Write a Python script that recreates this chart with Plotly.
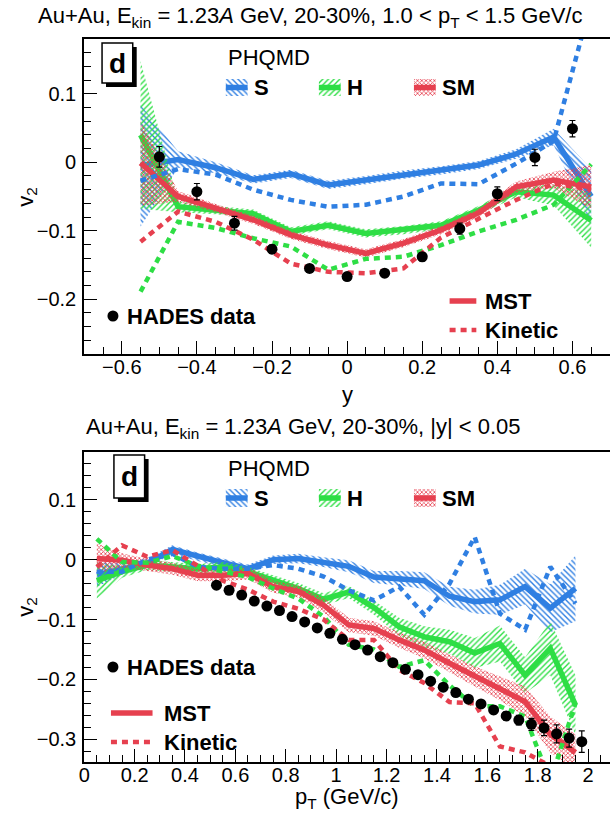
import plotly.graph_objects as go

# ---------------------------------------------------------------- data
# v2 vs rapidity, 1.0 < pT < 1.5 GeV/c
Y_MODEL = [-0.55, -0.45, -0.35, -0.25, -0.15, -0.05, 0.05, 0.15, 0.25, 0.35, 0.45, 0.55, 0.65]
S_MST_Y = [-0.005, 0.004, -0.008, -0.025, -0.017, -0.033, -0.026, -0.018, -0.012, -0.004, 0.012, 0.037, -0.050]
S_MST_Y_ERR = [0.089, 0.012, 0.008, 0.006, 0.006, 0.006, 0.006, 0.006, 0.006, 0.006, 0.007, 0.012, 0.040]
S_KIN_Y = [-0.027, -0.010, -0.018, -0.040, -0.055, -0.065, -0.062, -0.050, -0.031, -0.032, -0.002, 0.031, 0.235]
H_MST_Y = [0.040, -0.065, -0.070, -0.075, -0.101, -0.092, -0.104, -0.099, -0.092, -0.070, -0.043, -0.048, -0.085]
H_MST_Y_ERR = [0.108, 0.008, 0.006, 0.006, 0.006, 0.006, 0.006, 0.006, 0.006, 0.006, 0.008, 0.015, 0.040]
H_KIN_Y = [-0.189, -0.087, -0.096, -0.111, -0.123, -0.157, -0.141, -0.138, -0.121, -0.101, -0.084, -0.062, -0.003]
SM_MST_Y = [-0.001, -0.050, -0.067, -0.084, -0.106, -0.121, -0.133, -0.118, -0.099, -0.074, -0.036, -0.026, -0.036]
SM_MST_Y_ERR = [0.062, 0.008, 0.006, 0.006, 0.006, 0.006, 0.006, 0.006, 0.006, 0.006, 0.008, 0.012, 0.032]
SM_KIN_Y = [-0.116, -0.072, -0.087, -0.113, -0.148, -0.160, -0.162, -0.155, -0.110, -0.082, -0.055, -0.031, -0.040]

Y_HADES = [-0.5, -0.4, -0.3, -0.2, -0.1, 0.0, 0.1, 0.2, 0.3, 0.4, 0.5, 0.6]
V2_HADES_Y = [0.008, -0.043, -0.089, -0.127, -0.155, -0.167, -0.162, -0.138, -0.097, -0.046, 0.007, 0.049]
V2_HADES_Y_ERR = [0.015, 0.012, 0.010, 0.006, 0.005, 0.005, 0.005, 0.006, 0.008, 0.010, 0.012, 0.012]

# v2 vs transverse momentum, |y| < 0.05
PT_MODEL = [0.05, 0.15, 0.25, 0.35, 0.45, 0.55, 0.65, 0.75, 0.85, 0.95,
            1.05, 1.15, 1.25, 1.35, 1.45, 1.55, 1.65, 1.75, 1.85, 1.95]
S_MST_PT = [-0.025, -0.015, -0.006, 0.017, 0.005, -0.005, -0.015, 0.000, 0.002, -0.004,
            -0.011, -0.029, -0.031, -0.035, -0.061, -0.070, -0.067, -0.045, -0.081, -0.048]
S_MST_PT_ERR = [0.020, 0.010, 0.008, 0.007, 0.007, 0.007, 0.007, 0.007, 0.008, 0.008,
                0.010, 0.010, 0.012, 0.014, 0.016, 0.020, 0.025, 0.030, 0.040, 0.055]
S_KIN_PT = [-0.020, -0.020, 0.000, 0.010, -0.012, -0.015, -0.015, -0.009, -0.015, -0.028,
            -0.051, -0.068, -0.045, -0.092, -0.040, 0.038, -0.090, -0.117, -0.012, -0.073]
H_MST_PT = [-0.035, -0.020, -0.009, -0.012, -0.015, -0.012, -0.020, -0.034, -0.048, -0.066,
            -0.054, -0.080, -0.112, -0.129, -0.137, -0.156, -0.140, -0.193, -0.148, -0.243]
H_MST_PT_ERR = [0.030, 0.010, 0.008, 0.008, 0.008, 0.008, 0.008, 0.008, 0.009, 0.010,
                0.010, 0.012, 0.015, 0.018, 0.020, 0.025, 0.030, 0.030, 0.045, 0.050]
H_KIN_PT = [0.035, -0.004, -0.005, 0.006, -0.010, -0.020, -0.029, -0.048, -0.065, -0.095,
            -0.142, -0.150, -0.179, -0.168, -0.210, -0.245, -0.245, -0.262, -0.370, -0.240]
SM_MST_PT = [0.002, -0.001, -0.009, -0.015, -0.026, -0.026, -0.023, -0.045, -0.053, -0.076,
             -0.109, -0.115, -0.134, -0.151, -0.173, -0.195, -0.215, -0.237, -0.292, -0.322]
SM_MST_PT_ERR = [0.025, 0.012, 0.010, 0.010, 0.010, 0.010, 0.010, 0.010, 0.010, 0.012,
                 0.012, 0.012, 0.013, 0.014, 0.015, 0.017, 0.020, 0.025, 0.030, 0.030]
SM_KIN_PT = [-0.012, 0.024, 0.005, 0.016, -0.010, -0.035, -0.050, -0.070, -0.082, -0.100,
             -0.134, -0.134, -0.184, -0.206, -0.238, -0.240, -0.312, -0.322, -0.345, -0.360]

PT_HADES = [0.525, 0.575, 0.625, 0.675, 0.725, 0.775, 0.825, 0.875, 0.925, 0.975,
            1.025, 1.075, 1.125, 1.175, 1.225, 1.275, 1.325, 1.375, 1.425, 1.475,
            1.525, 1.575, 1.625, 1.675, 1.725, 1.775, 1.825, 1.875, 1.925, 1.975]
V2_HADES_PT = [-0.0425, -0.051, -0.059, -0.069, -0.0775, -0.085, -0.095, -0.104, -0.114, -0.123,
               -0.133, -0.142, -0.151, -0.162, -0.172, -0.183, -0.192, -0.203, -0.213, -0.222,
               -0.233, -0.241, -0.251, -0.261, -0.268, -0.275, -0.281, -0.291, -0.298, -0.304]
V2_HADES_PT_ERR = [0.002, 0.002, 0.002, 0.002, 0.002, 0.002, 0.002, 0.002, 0.002, 0.002,
                   0.003, 0.003, 0.003, 0.003, 0.003, 0.003, 0.003, 0.004, 0.004, 0.004,
                   0.005, 0.005, 0.006, 0.007, 0.008, 0.010, 0.013, 0.015, 0.015, 0.018]

# ---------------------------------------------------------------- style
W, H = 610, 825
FONT = "Liberation Sans"
BLUE, GREEN, RED = "#2f7fe2", "#2ede45", "#e6404f"
HATCH = {"S": (BLUE, "\\", 4, 0.35), "H": (GREEN, "/", 4, 0.35), "SM": (RED, "x", 3, 0.45)}
DASH = "6px,5px"

fig = go.Figure()


def pattern(key):
    color, shape, size, solidity = HATCH[key]
    return dict(shape=shape, fgcolor=color, bgcolor="rgba(0,0,0,0)",
                size=size, solidity=solidity, fillmode="replace")


def add_band(x, v, err, key, xa, ya):
    hi = [a + e for a, e in zip(v, err)]
    lo = [a - e for a, e in zip(v, err)]
    fig.add_trace(go.Scatter(
        x=list(x) + list(x)[::-1], y=hi + lo[::-1], mode="none",
        fill="toself", fillcolor="rgba(0,0,0,0)", fillpattern=pattern(key),
        xaxis=xa, yaxis=ya, showlegend=False, hoverinfo="skip"))


def add_line(x, v, key, xa, ya, dashed):
    color = HATCH[key][0]
    fig.add_trace(go.Scatter(
        x=x, y=v, mode="lines",
        line=dict(color=color, width=4.5 if dashed else 5.5, dash=DASH if dashed else "solid"),
        xaxis=xa, yaxis=ya, showlegend=False, hoverinfo="skip"))


def add_data(x, v, err, xa, ya):
    fig.add_trace(go.Scatter(
        x=x, y=v, mode="markers",
        marker=dict(color="black", size=11, symbol="circle"),
        error_y=dict(type="data", array=err, color="black", thickness=1.2, width=3),
        xaxis=xa, yaxis=ya, showlegend=False, hoverinfo="skip"))


panels = [
    ("x", "y", Y_MODEL,
     [("S", S_MST_Y, S_MST_Y_ERR, S_KIN_Y), ("H", H_MST_Y, H_MST_Y_ERR, H_KIN_Y),
      ("SM", SM_MST_Y, SM_MST_Y_ERR, SM_KIN_Y)],
     Y_HADES, V2_HADES_Y, V2_HADES_Y_ERR),
    ("x2", "y2", PT_MODEL,
     [("S", S_MST_PT, S_MST_PT_ERR, S_KIN_PT), ("H", H_MST_PT, H_MST_PT_ERR, H_KIN_PT),
      ("SM", SM_MST_PT, SM_MST_PT_ERR, SM_KIN_PT)],
     PT_HADES, V2_HADES_PT, V2_HADES_PT_ERR),
]

for xa, ya, xm, models, xd, vd, ed in panels:
    for key, mst, err, kin in models:
        add_band(xm, mst, err, key, xa, ya)
        add_line(xm, mst, key, xa, ya, dashed=False)
    for key, mst, err, kin in models:
        add_line(xm, kin, key, xa, ya, dashed=True)
    add_data(xd, vd, ed, xa, ya)

# ---------------------------------------------------------------- legends / labels (pixel frame)
PX = dict(xref="x3", yref="y3")
LEG = [
    dict(dbox=(97, 43, 128, 83), phqmd=(222, 57), sw_y=(79, 96), sw_x=[222, 316, 412],
         lab_x=[248, 342, 438], hades=(108, 316), mst=(448, 475, 482), mst_y=(301, 330),
         title=(307, 17), title_text="Au+Au, E<sub>kin</sub> = 1.23<i>A</i> GeV, 20-30%, 1.0 &lt; p<sub>T</sub> &lt; 1.5 GeV/c",
         ytitle=(21, 197), xtitle=(345, 394), xtitle_text="y"),
    dict(dbox=(109, 455, 140, 498), phqmd=(222, 468), sw_y=(489, 507), sw_x=[222, 316, 412],
         lab_x=[248, 342, 438], hades=(108, 667), mst=(106, 148, 158), mst_y=(713, 742),
         title=(300, 428), title_text="Au+Au, E<sub>kin</sub> = 1.23<i>A</i> GeV, 20-30%, |y| &lt; 0.05",
         ytitle=(21, 607), xtitle=(344, 798), xtitle_text="p<sub>T</sub> (GeV/c)"),
]
SW_W = 22
annotations = []
shapes = []
for L in LEG:
    x0, y0, x1, y1 = L["dbox"]
    shapes.append(dict(type="rect", x0=x0 + 4, y0=y0 + 4, x1=x1 + 4, y1=y1 + 4,
                       fillcolor="black", line=dict(width=0), layer="above", **PX))
    shapes.append(dict(type="rect", x0=x0, y0=y0, x1=x1, y1=y1, fillcolor="white",
                       line=dict(color="black", width=1.5), layer="above", **PX))
    annotations.append(dict(x=(x0 + x1) / 2, y=(y0 + y1) / 2, text="<b>d</b>", showarrow=False,
                            font=dict(family=FONT, size=28, color="black"), **PX))
    annotations.append(dict(x=L["phqmd"][0], y=L["phqmd"][1], text="PHQMD", showarrow=False,
                            xanchor="left", font=dict(family=FONT, size=22, color="black"), **PX))
    sy0, sy1 = L["sw_y"]
    for key, sx, lx in zip(["S", "H", "SM"], L["sw_x"], L["lab_x"]):
        color = HATCH[key][0]
        fig.add_trace(go.Scatter(x=[sx, sx + SW_W, sx + SW_W, sx, sx], y=[sy0, sy0, sy1, sy1, sy0],
                                 mode="none", fill="toself", fillcolor="rgba(0,0,0,0)",
                                 fillpattern=pattern(key), xaxis="x3", yaxis="y3",
                                 showlegend=False, hoverinfo="skip"))
        fig.add_trace(go.Scatter(x=[sx, sx + SW_W], y=[(sy0 + sy1) / 2] * 2, mode="lines",
                                 line=dict(color=color, width=5.5), xaxis="x3", yaxis="y3",
                                 showlegend=False, hoverinfo="skip"))
        annotations.append(dict(x=lx, y=(sy0 + sy1) / 2, text=f"<b>{key}</b>", showarrow=False,
                                xanchor="left", font=dict(family=FONT, size=22, color="black"), **PX))
    hx, hy = L["hades"]
    fig.add_trace(go.Scatter(x=[hx], y=[hy], mode="markers", marker=dict(color="black", size=11),
                             xaxis="x3", yaxis="y3", showlegend=False, hoverinfo="skip"))
    annotations.append(dict(x=hx + 12, y=hy, text="<b>HADES data</b>", showarrow=False, xanchor="left",
                            font=dict(family=FONT, size=22, color="black"), **PX))
    mx0, mx1, tx = L["mst"]
    for yy, dashed, label in zip(L["mst_y"], [False, True], ["MST", "Kinetic"]):
        fig.add_trace(go.Scatter(x=[mx0, mx1], y=[yy, yy], mode="lines",
                                 line=dict(color=RED, width=4.5 if dashed else 5.5,
                                           dash=DASH if dashed else "solid"),
                                 xaxis="x3", yaxis="y3", showlegend=False, hoverinfo="skip"))
        annotations.append(dict(x=tx, y=yy, text=f"<b>{label}</b>", showarrow=False, xanchor="left",
                                font=dict(family=FONT, size=22, color="black"), **PX))
    annotations.append(dict(x=L["title"][0], y=L["title"][1], text=L["title_text"], showarrow=False,
                            font=dict(family=FONT, size=22, color="black"), **PX))
    annotations.append(dict(x=L["ytitle"][0], y=L["ytitle"][1], text="v<sub>2</sub>", showarrow=False,
                            textangle=-90, font=dict(family=FONT, size=22, color="black"), **PX))
    annotations.append(dict(x=L["xtitle"][0], y=L["xtitle"][1], text=L["xtitle_text"], showarrow=False,
                            font=dict(family=FONT, size=22, color="black"), **PX))

# ---------------------------------------------------------------- axes
tickfont = dict(family=FONT, size=20, color="black")


def axis(rng, dtick, minor, domain, mirror, standoff):
    return dict(range=rng, dtick=dtick, tick0=0, domain=domain, showline=True, linecolor="black",
                linewidth=2, mirror=mirror, ticks="inside", ticklen=13, tickwidth=1.3,
                tickcolor="black", showgrid=False, zeroline=False, tickfont=tickfont,
                ticklabelstandoff=standoff,
                minor=dict(ticks="inside", ticklen=7, tickwidth=1.3, tickcolor="black", dtick=minor),
                fixedrange=True)


XDOM = [79 / W, 1.0]
TOP_DOM = [(H - 354) / H, (H - 39) / H]
BOT_DOM = [(H - 762) / H, (H - 452) / H]

fig.update_layout(
    width=W, height=H, margin=dict(l=0, r=0, t=0, b=0),
    paper_bgcolor="white", plot_bgcolor="rgba(0,0,0,0)",
    xaxis=dict(axis([-0.7, 0.7], 0.2, 0.05, XDOM, True, -6), anchor="y"),
    yaxis=dict(axis([-0.28, 0.18], 0.1, 0.02, TOP_DOM, False, 2), anchor="x"),
    xaxis2=dict(axis([0, 2.087], 0.2, 0.05, XDOM, True, -6), anchor="y2"),
    yaxis2=dict(axis([-0.338, 0.18], 0.1, 0.02, BOT_DOM, False, 2), anchor="x2"),
    xaxis3=dict(range=[0, W], domain=[0, 1], visible=False, fixedrange=True, anchor="y3"),
    yaxis3=dict(range=[H, 0], domain=[0, 1], visible=False, fixedrange=True, anchor="x3"),
    shapes=shapes, annotations=annotations, showlegend=False,
)

fig.write_html("out.html")
